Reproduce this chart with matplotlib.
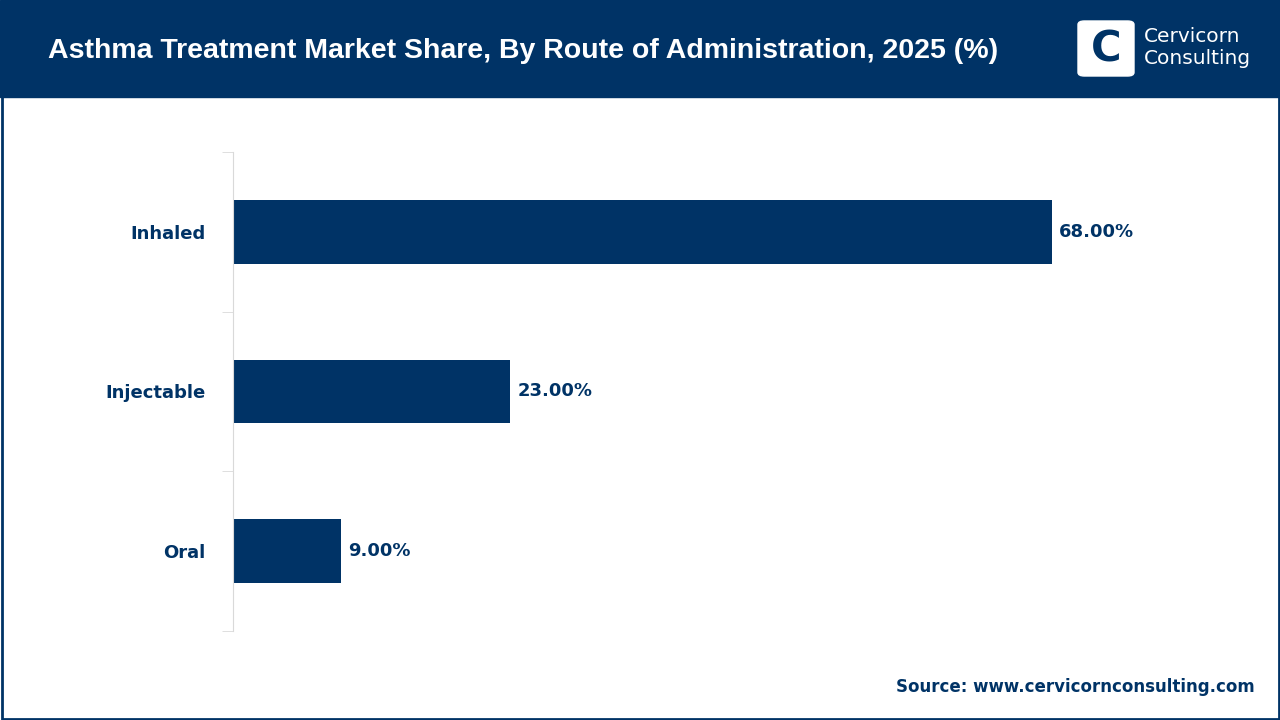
import matplotlib
matplotlib.use("Agg")
import matplotlib.pyplot as plt
from matplotlib.patches import Rectangle, FancyBboxPatch

categories = ["Inhaled", "Injectable", "Oral"]
values = [68.0, 23.0, 9.0]
title = "Asthma Treatment Market Share, By Route of Administration, 2025 (%)"
source = "Source: www.cervicornconsulting.com"

NAVY = "#003366"
W, H = 1280, 720
fig = plt.figure(figsize=(W/100, H/100), dpi=100)
fig.patch.set_facecolor("white")

fig.add_artist(Rectangle((0, 1-97/H), 1, 97/H, transform=fig.transFigure, color=NAVY, zorder=0))
fig.add_artist(Rectangle((1.5/W, 1.5/H), 1-3/W, 1-3/H, transform=fig.transFigure, fill=False, ec=NAVY, lw=2))
fig.text(48/W, 1-51/H, title, color="white", fontsize=20.5, fontweight="bold", va="center", ha="left", family="Liberation Sans")
fig.add_artist(FancyBboxPatch((1078/W, 1-76/H), 56/W, 55/H, boxstyle="round,pad=0,rounding_size=0.005",
                              transform=fig.transFigure, color="white"))
fig.text(1106/W, 1-49/H, "C", color=NAVY, fontsize=30, fontweight="bold", ha="center", va="center")
fig.text(1144/W, 1-37/H, "Cervicorn", color="white", fontsize=14.5, ha="left", va="center")
fig.text(1144/W, 1-59/H, "Consulting", color="white", fontsize=14.5, ha="left", va="center")

left, right, top, bottom = 233, 1240, 152, 631
ax = fig.add_axes([left/W, 1-bottom/H, (right-left)/W, (bottom-top)/H])
y = list(range(len(categories)))[::-1]
ax.barh(y, values, height=0.4, color=NAVY)
scale = 819/68
ax.set_xlim(0, (right-left)/scale)
ax.set_ylim(-0.5, 2.5)
for yi, v in zip(y, values):
    ax.text(v + 0.6, yi, f"{v:.2f}%", va="center", ha="left", fontsize=13, fontweight="bold", color=NAVY)
ax.set_yticks(y)
ax.set_yticklabels(categories, fontsize=13, fontweight="bold", color=NAVY)
ax.tick_params(axis="y", length=0, pad=20)
ax.set_yticks([-0.5, 0.5, 1.5, 2.5], minor=True)
ax.tick_params(axis="y", which="minor", length=8, color="#d9d9d9", direction="out")
ax.set_xticks([])
for s in ["top", "right", "bottom"]:
    ax.spines[s].set_visible(False)
ax.spines["left"].set_color("#d9d9d9")

fig.text(1255/W, 1-687/H, source, color=NAVY, fontsize=12, fontweight="bold", ha="right", va="center")
fig.savefig("out.png", dpi=100)
